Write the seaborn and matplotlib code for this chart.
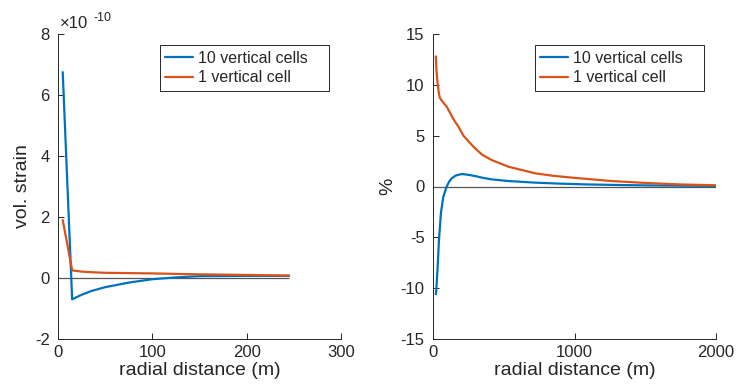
import numpy as np
import pandas as pd
import matplotlib
matplotlib.use("Agg")
import matplotlib.pyplot as plt
import seaborn as sns

# Left panel: volumetric strain vs radial distance
left_x_10 = [5, 15, 25, 35, 50, 62, 75, 100, 125, 150, 200, 245]
left_y_10 = [6.75e-10, -0.70e-10, -0.55e-10, -0.43e-10, -0.30e-10, -0.23e-10,
             -0.15e-10, -0.04e-10, 0.02e-10, 0.06e-10, 0.07e-10, 0.07e-10]
left_x_1 = [5, 15, 25, 35, 50, 75, 100, 150, 200, 245]
left_y_1 = [1.9e-10, 0.25e-10, 0.21e-10, 0.19e-10, 0.17e-10, 0.16e-10,
            0.15e-10, 0.12e-10, 0.10e-10, 0.08e-10]
left_x_end = 245

# Right panel: percent difference vs radial distance
right_x_10 = [20, 23, 27, 33, 42, 56, 73, 97, 115, 132, 160, 203, 250, 297, 350,
              415, 532, 721, 900, 1100, 1300, 1500, 1750, 2000]
right_y_10 = [-10.6, -10.2, -9.3, -7.9, -5.3, -2.6, -1.0, 0.0, 0.5, 0.8, 1.08,
              1.23, 1.15, 1.03, 0.86, 0.7, 0.54, 0.38, 0.28, 0.2, 0.15, 0.11,
              0.08, 0.06]
right_x_1 = [20, 25, 33, 41, 49, 70, 97, 130, 150, 179, 215, 260, 297, 350,
             415, 532, 721, 850, 1000, 1250, 1500, 1750, 2000]
right_y_1 = [12.8, 11.3, 10.1, 9.2, 8.7, 8.3, 7.85, 7.0, 6.5, 5.9, 5.0, 4.3,
             3.75, 3.1, 2.6, 1.95, 1.3, 1.05, 0.85, 0.55, 0.35, 0.2, 0.12]

series_names = ["10 vertical cells", "1 vertical cell"]
colors = ["#0072BD", "#D95319"]

sns.set_style("ticks")
plt.rcParams['font.family'] = ['Liberation Sans', 'DejaVu Sans']

fig = plt.figure(figsize=(7.36, 3.91), dpi=100)
W, H = 736, 391
axL = fig.add_axes([58 / W, 1 - 339 / H, (341 - 58) / W, (339 - 34) / H])
axR = fig.add_axes([433 / W, 1 - 339 / H, (716 - 433) / W, (339 - 34) / H])

dfL = pd.concat([
    pd.DataFrame({"x": left_x_10, "y": left_y_10, "s": series_names[0]}),
    pd.DataFrame({"x": left_x_1, "y": left_y_1, "s": series_names[1]}),
])
dfR = pd.concat([
    pd.DataFrame({"x": right_x_10, "y": right_y_10, "s": series_names[0]}),
    pd.DataFrame({"x": right_x_1, "y": right_y_1, "s": series_names[1]}),
])

axis_col = "#262626"
for ax, df, xend in [(axL, dfL, left_x_end), (axR, dfR, 2000)]:
    ax.hlines(0, 0, xend, color="#555555", lw=0.9, zorder=1)
    sns.lineplot(data=df, x="x", y="y", hue="s", palette=colors, ax=ax,
                 lw=1.6, sort=False, estimator=None, zorder=3)
    for sp in ["top", "right"]:
        ax.spines[sp].set_visible(False)
    for sp in ["left", "bottom"]:
        ax.spines[sp].set_color(axis_col)
        ax.spines[sp].set_linewidth(0.7)
    ax.tick_params(direction="in", length=4, width=0.7, colors=axis_col,
                   labelsize=12, labelcolor=axis_col)
    ax.tick_params(axis="y", pad=6)
    ax.tick_params(axis="x", pad=4.5)
    ax.set_xlabel("radial distance (m)", fontsize=14, color=axis_col, labelpad=1)
    leg = ax.legend(loc="upper left", mode="expand",
                    bbox_to_anchor=(0.360, 0.80, 0.597, 0.164),
                    fontsize=11.5, frameon=True, fancybox=False,
                    edgecolor=axis_col, framealpha=1, handlelength=1.75,
                    handletextpad=0.3, borderpad=0.35, borderaxespad=0,
                    labelspacing=0.3)
    leg.get_frame().set_linewidth(0.7)

axL.set_xlim(0, 300)
axL.set_xticks([0, 100, 200, 300])
axL.set_ylim(-2e-10, 8e-10)
axL.set_yticks([-2e-10, 0, 2e-10, 4e-10, 6e-10, 8e-10])
axL.set_yticklabels(["-2", "0", "2", "4", "6", "8"])
axL.set_ylabel("vol. strain", fontsize=14, color=axis_col, labelpad=3)
axL.text(0.005, 1.02, "\u00d710", transform=axL.transAxes, fontsize=12,
         color=axis_col, va="baseline", ha="left")
axL.text(0.125, 1.054, "-10", transform=axL.transAxes, fontsize=9,
         color=axis_col, va="center", ha="left")

axR.set_xlim(0, 2000)
axR.set_xticks([0, 1000, 2000])
axR.set_ylim(-15, 15)
axR.set_yticks([-15, -10, -5, 0, 5, 10, 15])
axR.set_yticklabels(["-15", "-10", "-5", "0", "5", "10", "15"])
axR.set_ylabel("%", fontsize=14, color=axis_col, labelpad=3)

fig.savefig("out.png", dpi=100)
